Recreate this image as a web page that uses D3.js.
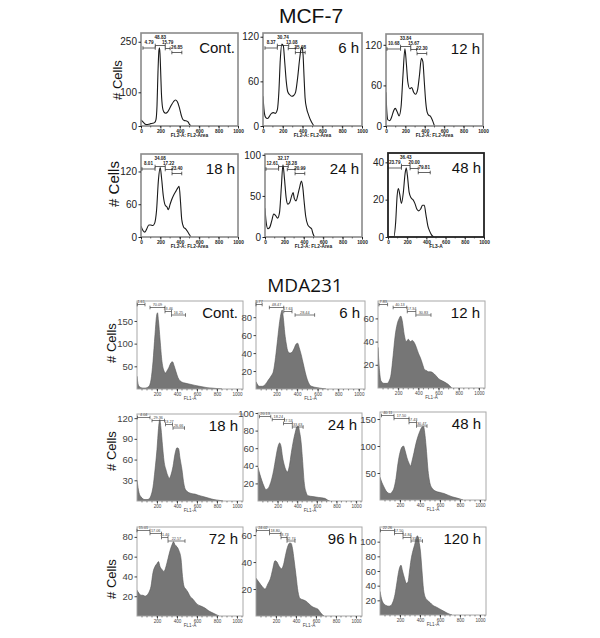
<!DOCTYPE html>
<html>
<head>
<meta charset="utf-8">
<script src="https://cdn.jsdelivr.net/npm/d3@7"></script>
<style>
  body { margin: 0; background: #fff; }
  svg text { font-family: "Liberation Sans", Arial, sans-serif; }
</style>
</head>
<body>
<div id="fig"></div>
<script>
// ---- MCF-7 histograms: [channel, # cells]
const mcfCont = [[0,18],[20,12],[40,6],[60,4],[80,5],[100,7],[120,8],[140,10],[155,20],[165,60],[175,160],[185,225],[192,232],[200,185],[210,100],[222,55],[235,42],[255,38],[275,42],[295,52],[315,63],[335,72],[355,77],[375,72],[395,55],[415,32],[430,20],[450,16],[470,15],[485,12],[500,5],[515,0]];
const mcf6h = [[0,40],[10,22],[25,12],[45,10],[65,13],[85,17],[105,18],[125,17],[145,22],[160,45],[175,90],[190,110],[205,108],[220,85],[235,60],[250,46],[270,42],[290,40],[310,41],[330,46],[350,65],[370,90],[385,104],[395,106],[405,95],[415,65],[425,38],[440,24],[460,15],[480,8],[500,3],[515,0]];
const mcf12h = [[0,50],[8,22],[20,9],[40,8],[60,14],[80,23],[95,26],[115,21],[135,15],[155,28],[175,75],[195,114],[210,92],[225,65],[245,55],[265,57],[285,50],[305,47],[325,53],[345,75],[365,100],[380,95],[395,65],[410,35],[425,20],[440,16],[460,14],[480,8],[500,0]];
const mcf18h = [[0,20],[20,12],[40,9],[60,15],[80,22],[100,22],[120,21],[140,25],[160,48],[180,105],[198,127],[212,108],[230,75],[250,58],[268,55],[282,50],[300,60],[320,70],[340,78],[360,84],[380,90],[393,93],[407,65],[420,32],[440,18],[460,15],[480,10],[500,4],[515,0]];
const mcf24h = [[0,35],[10,20],[30,10],[50,12],[70,20],[90,28],[110,26],[130,23],[150,30],[168,60],[185,88],[200,72],[218,48],[235,40],[255,42],[275,50],[290,54],[302,47],[320,44],[340,52],[360,62],[375,68],[390,60],[402,45],[420,25],[440,15],[460,12],[480,10],[495,4],[510,0]];
const mcf48h = [[0,0],[60,0],[80,8],[95,22],[108,26],[122,23],[140,18],[160,24],[178,34],[190,37],[202,33],[220,24],[240,21],[260,20],[280,18],[300,15],[320,14],[340,15],[360,17],[378,17],[395,12],[415,6],[435,3],[455,1],[475,0]];

const mcfLabels = ["Cont.", "6 h", "12 h", "18 h", "24 h", "48 h"];
const mcfYMax = [276, 125, 136, 152, 101, 45];
const mcfYTicks = [[0,100,250],[0,60,120],[0,60,120],[0,60,120],[0,50,100],[0,20,40]];
const mcfXTicks = [0, 200, 400, 600, 800, 1000];
const mcfXTitle = ["FL2-A: FL2-Area", "FL2-A: FL2-Area", "FL2-A: FL2-Area", "FL2-A: FL2-Area", "FL2-A: FL2-Area", "FL3-A"];
const mcfGates = [
  [[20,147],[147,250],[250,300],[318,421]],
  [[20,145],[145,260],[255,327],[327,426]],
  [[10,150],[150,255],[255,315],[320,420]],
  [[10,145],[145,250],[250,320],[320,420]],
  [[10,140],[140,240],[230,310],[310,410]],
  [[0,140],[140,230],[230,315],[315,440]]
];
const mcfGateLabels = [
  ["4.79","48.83","15.79","26.85"],
  ["8.37","30.74","13.08","35.08"],
  ["10.68","33.84","15.67","22.30"],
  ["8.01","34.08","17.22","23.40"],
  ["12.61","32.17","18.28","20.99"],
  ["23.79","36.43","20.00","79.81"]
];

// ---- MDA231 histograms: [channel, # cells]
const mdaCont = [[0,28],[10,12],[20,6],[40,3],[60,2],[80,2],[100,3],[120,6],[140,20],[160,60],[180,120],[195,160],[205,168],[215,150],[230,110],[250,60],[270,40],[285,35],[300,40],[320,48],[340,58],[355,60],[370,52],[390,38],[410,25],[430,18],[450,15],[480,13],[520,11],[560,9],[600,7],[650,5],[700,3],[750,2],[800,1],[850,0]];
const mda6h = [[0,8],[15,5],[30,3],[60,3],[90,5],[120,10],[150,15],[170,20],[190,35],[210,55],[230,75],[245,85],[255,88],[265,80],[280,62],[295,50],[310,42],[330,40],[350,41],[370,45],[390,50],[405,51],[420,46],[440,38],[460,28],[480,18],[500,10],[520,5],[540,3],[570,2],[620,1],[680,0]];
const mda12h = [[0,35],[15,15],[30,6],[60,4],[90,4],[110,6],[130,12],[150,28],[170,45],[190,55],[210,60],[225,62],[240,58],[260,46],[280,40],[300,42],[320,40],[340,41],[360,39],[380,35],[400,30],[420,26],[440,21],[460,16],[480,15],[500,14],[520,14],[545,13],[570,11],[600,8],[640,6],[680,4],[710,2],[730,0]];
const mda18h = [[0,30],[20,12],[40,6],[60,3],[80,2],[100,2],[120,3],[140,8],[160,20],[180,45],[200,75],[215,105],[228,118],[240,105],[255,80],[270,58],[290,45],[310,36],[325,33],[340,38],[360,50],[380,68],[400,77],[415,76],[430,62],[450,45],[465,28],[480,18],[500,14],[540,11],[580,10],[620,8],[670,6],[720,4],[770,2],[820,1],[860,0]];
const mda24h = [[0,38],[20,30],[40,23],[60,17],[80,13],[100,14],[120,18],[140,25],[160,35],[180,48],[200,60],[220,66],[235,62],[250,50],[270,40],[290,34],[300,33],[320,40],[340,55],[360,68],[380,78],[395,84],[410,85],[425,78],[440,66],[455,45],[470,22],[490,10],[510,6],[560,5],[620,4],[680,3],[710,1],[730,0]];
const mda48h = [[0,42],[20,32],[40,24],[60,17],[80,13],[100,12],[120,15],[140,22],[160,40],[180,68],[200,88],[220,98],[235,100],[250,92],[270,78],[290,68],[305,63],[320,72],[340,88],[360,105],[380,118],[400,128],[420,135],[435,136],[450,120],[465,90],[480,55],[495,35],[520,22],[560,16],[600,14],[640,12],[680,9],[720,6],[760,4],[800,2],[830,0]];
const mda72h = [[0,26],[20,23],[40,21],[60,21],[80,20],[100,21],[120,24],[140,30],[160,44],[180,50],[200,53],[215,55],[230,50],[250,47],[270,45],[290,50],[310,58],[330,66],[350,72],[365,75],[380,72],[400,70],[420,66],[440,58],[455,40],[470,30],[490,27],[510,24],[530,20],[560,17],[600,12],[640,10],[680,8],[720,5],[760,3],[800,1],[820,0]];
const mda96h = [[0,28],[30,25],[60,22],[90,20],[120,24],[145,28],[165,34],[190,41],[210,40],[230,37],[255,35],[275,38],[295,45],[315,51],[335,54],[350,54],[365,50],[380,42],[400,30],[420,18],[440,13],[470,12],[500,11],[530,9],[560,7],[590,6],[620,5],[650,2],[680,0]];
const mda120h = [[0,32],[20,20],[40,15],[60,13],[90,12],[110,13],[130,18],[150,28],[170,45],[185,58],[200,66],[210,68],[225,60],[245,50],[265,43],[280,45],[295,60],[310,75],[330,88],[345,95],[360,104],[375,108],[390,100],[405,86],[420,60],[435,35],[450,25],[475,20],[500,17],[530,13],[560,11],[600,8],[640,5],[680,2],[720,0]];

const mdaLabels = ["Cont.", "6 h", "12 h", "18 h", "24 h", "48 h", "72 h", "96 h", "120 h"];
const mdaYMax = [194, 98, 75, 126, 100, 163, 90, 66, 120];
const mdaYTicks = [[50,100,150],[20,40,60,80],[20,40,60],[30,60,90,120],[20,40,60,80,100],[50,100,150],[20,40,60,80],[20,40,60],[20,40,60,80,100]];
const mdaXTicks = [200, 400, 600, 800, 1000];
const mdaGates = [
  [[3,80],[130,280],[280,345],[345,485]],
  [[0,60],[130,270],[270,350],[380,570]],
  [[10,95],[150,285],[290,375],[375,525]],
  [[5,130],[150,275],[285,355],[360,475]],
  [[15,130],[145,270],[260,350],[350,460]],
  [[15,140],[140,290],[290,365],[365,470]],
  [[0,130],[130,245],[245,310],[310,480]],
  [[5,135],[135,250],[250,310],[310,390]],
  [[5,145],[145,230],[230,310],[310,425]]
];
const mdaGateLabels = [
  ["1.61","70.09","13.46","16.25"],
  ["5.77","48.47","17.63","28.44"],
  ["7.83","40.13","17.34","30.83"],
  ["4.04","29.36","13.27","26.66"],
  ["20.13","18.24","17.53","33.63"],
  ["40.11","17.50","17.43","30.47"],
  ["15.01","17.06","11.46","22.57"],
  ["24.02","18.80","13.73","32.74"],
  ["22.26","17.50","14.84","31.22"]
];

const mcfHists = [mcfCont, mcf6h, mcf12h, mcf18h, mcf24h, mcf48h];
const mdaHists = [mdaCont, mda6h, mda12h, mda18h, mda24h, mda48h, mda72h, mda96h, mda120h];

// ---- layout
const svg = d3.select("#fig").append("svg")
  .attr("width", 600)
  .attr("height", 638);

const mcfBoxes = [
  [141, 33, 97, 93], [263, 33, 99, 93], [386, 34, 97, 92],
  [141, 154, 97, 83], [265, 154, 97, 83], [388, 153, 96, 84]
];
const mdaBoxes = [
  [137, 301, 106, 88], [256, 301, 109, 88], [378, 301, 107, 87],
  [137, 414, 106, 87], [258, 413, 104, 88], [380, 412, 106, 88],
  [137, 527, 106, 89], [256, 527, 106, 89], [380, 527, 106, 88]
];

const narrow = "'Liberation Sans Narrow', 'Liberation Sans', Arial, sans-serif";
let clipId = 0;

function drawPanel(i, box, o) {
  const [x0, y0, w, h] = box;
  const x = d3.scaleLinear().domain([0, o.xMax]).range([x0, x0 + w]);
  const y = d3.scaleLinear().domain([0, o.yMax[i]]).range([y0 + h, y0]);
  const g = svg.append("g");

  const id = "clip" + (clipId++);
  g.append("clipPath").attr("id", id)
    .append("rect").attr("x", x0).attr("y", y0).attr("width", w).attr("height", h);

  if (o.filled) {
    g.append("path")
      .datum(o.hists[i])
      .attr("clip-path", `url(#${id})`)
      .attr("fill", "#767676")
      .attr("stroke", "#555")
      .attr("stroke-width", 0.6)
      .attr("d", d3.area()
        .x(d => x(d[0]))
        .y0(y(0))
        .y1(d => y(d[1]))
        .curve(d3.curveMonotoneX));
  } else {
    g.append("path")
      .datum(o.hists[i])
      .attr("clip-path", `url(#${id})`)
      .attr("fill", "none")
      .attr("stroke", "#1a1a1a")
      .attr("stroke-width", 1.1)
      .attr("d", d3.line()
        .x(d => x(d[0]))
        .y(d => y(d[1]))
        .curve(d3.curveMonotoneX));
  }

  // frame
  g.append("rect")
    .attr("x", x0).attr("y", y0).attr("width", w).attr("height", h)
    .attr("fill", "none")
    .attr("stroke", o.frame(i))
    .attr("stroke-width", o.frameW(i));

  // y axis
  const ya = g.append("g")
    .attr("transform", `translate(${x0},0)`)
    .call(d3.axisLeft(y).tickValues(o.yTicks[i]).tickSize(2.5).tickPadding(1.5));
  ya.select(".domain").remove();
  ya.selectAll("line").attr("stroke", o.axisColor);
  ya.selectAll("text")
    .attr("font-size", o.yFont)
    .attr("fill", o.axisColor)
    .attr("font-family", narrow);

  // x axis, major + minor ticks
  const xa = g.append("g")
    .attr("transform", `translate(0,${y0 + h})`)
    .call(d3.axisBottom(x).tickValues(o.xTicks).tickFormat(d3.format("d")).tickSize(2.5).tickPadding(1));
  xa.select(".domain").remove();
  xa.selectAll("line").attr("stroke", o.axisColor);
  xa.selectAll("text")
    .attr("font-size", o.xFont)
    .attr("font-weight", o.xWeight)
    .attr("fill", o.axisColor)
    .attr("font-family", "Liberation Sans, Arial, sans-serif");
  g.selectAll(null)
    .data(d3.range(o.minorStep, o.xMax, o.minorStep))
    .join("line")
    .attr("x1", d => x(d)).attr("x2", d => x(d))
    .attr("y1", y0 + h).attr("y2", y0 + h + 1.5)
    .attr("stroke", o.axisColor)
    .attr("stroke-width", 0.6);

  g.append("text")
    .attr("x", x0 + w / 2)
    .attr("y", y0 + h + o.titleDy)
    .attr("text-anchor", "middle")
    .attr("font-size", o.xFont)
    .attr("font-weight", o.xWeight)
    .attr("fill", o.axisColor)
    .text(o.xTitle[i]);

  // gate markers
  o.gates[i].forEach((gt, k) => {
    const gy = y0 + o.gateY[k];
    const a = x(gt[0]), b = x(gt[1]);
    g.append("line").attr("x1", a).attr("x2", b).attr("y1", gy).attr("y2", gy)
      .attr("stroke", o.gateColor).attr("stroke-width", 0.7);
    [a, b].forEach(v => g.append("line")
      .attr("x1", v).attr("x2", v).attr("y1", gy - 1.8).attr("y2", gy + 1.8)
      .attr("stroke", o.gateColor).attr("stroke-width", 0.7));
    g.append("text")
      .attr("x", (a + b) / 2)
      .attr("y", gy - o.gateLift[k])
      .attr("text-anchor", "middle")
      .attr("font-size", o.gateFont)
      .attr("font-weight", o.xWeight)
      .attr("fill", o.gateColor)
      .text(o.gateLabels[i][k]);
  });

  // time label
  g.append("text")
    .attr("x", x0 + w - o.labelDx)
    .attr("y", y0 + o.labelDy)
    .attr("text-anchor", "end")
    .attr("font-size", o.labelFont)
    .attr("fill", "#111")
    .text(o.labels[i]);
}

const mcfOpts = {
  hists: mcfHists, yMax: mcfYMax, yTicks: mcfYTicks, xTicks: mcfXTicks, xTitle: mcfXTitle,
  gates: mcfGates, gateLabels: mcfGateLabels, labels: mcfLabels,
  xMax: 1000, minorStep: 100, filled: false,
  frame: i => i === 5 ? "#222" : "#8a8a8a", frameW: i => i === 5 ? 1.8 : 1.6,
  axisColor: "#222", yFont: 10, xFont: 4.8, xWeight: "bold", titleDy: 11,
  gateY: [15, 12.5, 15.5, 19.5], gateLift: [4, 7, 5, 4], gateFont: 4.6, gateColor: "#222",
  labelDx: 3, labelDy: 20, labelFont: 15
};
const mdaOpts = {
  hists: mdaHists, yMax: mdaYMax, yTicks: mdaYTicks, xTicks: mdaXTicks,
  xTitle: mdaLabels.map(() => "FL1-A"),
  gates: mdaGates, gateLabels: mdaGateLabels, labels: mdaLabels,
  xMax: 1060, minorStep: 50, filled: true,
  frame: () => "#a8a8a8", frameW: () => 1,
  axisColor: "#444", yFont: 9.5, xFont: 4.6, xWeight: "normal", titleDy: 11,
  gateY: [3.5, 6.5, 10.5, 14], gateLift: [1.3, 1.3, 1.3, 1.3], gateFont: 3.8, gateColor: "#444",
  labelDx: 5, labelDy: 17, labelFont: 15
};

mcfBoxes.forEach((b, i) => drawPanel(i, b, mcfOpts));
mdaBoxes.forEach((b, i) => drawPanel(i, b, mdaOpts));

// titles
svg.append("text").attr("x", 311).attr("y", 23).attr("text-anchor", "middle")
  .attr("font-size", 21).attr("fill", "#111").text("MCF-7");
svg.append("text").attr("x", 305).attr("y", 292).attr("text-anchor", "middle")
  .attr("font-size", 19).attr("fill", "#111")
  .style("font-family", "'Open Sans', sans-serif").text("MDA231");

// y titles
const yTitleSpots = [[117, 80, 13], [114, 184, 15], [111, 343, 13], [111, 451, 13], [111, 579, 13]];
yTitleSpots.forEach(([cx, cy, fs]) => {
  svg.append("text")
    .attr("transform", `translate(${cx},${cy}) rotate(-90)`)
    .attr("text-anchor", "middle")
    .attr("dy", "0.35em")
    .attr("font-size", fs)
    .attr("fill", "#111")
    .text("# Cells");
});
</script>
</body>
</html>
